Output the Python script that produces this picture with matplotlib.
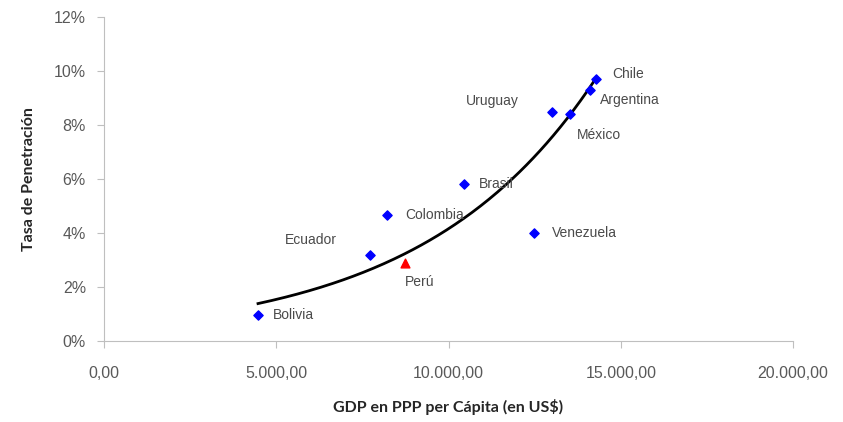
import numpy as np
import matplotlib.pyplot as plt
from matplotlib.ticker import FuncFormatter

# ---------- DATA ----------
countries = ["Bolivia", "Ecuador", "Colombia", "Brasil", "Venezuela",
             "Uruguay", "México", "Argentina", "Chile"]
gdp = [4470, 7720, 8215, 10450, 12480, 13000, 13530, 14100, 14280]
rate = [0.0096, 0.0319, 0.0467, 0.0581, 0.0400, 0.0848, 0.0841, 0.0930, 0.0970]

peru_gdp = 8740
peru_rate = 0.0289

# label offsets (points) and alignment
offsets = {
    "Bolivia": (11, 0, "left"), "Ecuador": (-24, 11, "right"),
    "Colombia": (13, 0, "left"), "Brasil": (11, 0, "left"),
    "Venezuela": (13, 0, "left"), "Uruguay": (-24, 8, "right"),
    "México": (5, -15, "left"), "Argentina": (7, -7, "left"),
    "Chile": (12, 4, "left"),
}

# ---------- TREND (exponential fit, like Excel) ----------
all_x = np.array(gdp + [peru_gdp])
all_y = np.array(rate + [peru_rate])
b, ln_a = np.polyfit(all_x, np.log(all_y), 1)
xs = np.linspace(min(all_x), max(all_x), 200)
ys = np.exp(ln_a) * np.exp(b * xs)

# ---------- PLOT ----------
fig = plt.figure(figsize=(8.43, 4.22), dpi=100)
ax = fig.add_axes([0.1234, 0.192, 0.8173, 0.7677])

ax.plot(xs, ys, color="black", lw=2)
ax.scatter(gdp, rate, marker="D", s=22, color="#0000ff", zorder=3)
ax.scatter([peru_gdp], [peru_rate], marker="^", s=40, color="#ff0000", zorder=3)

txt_color = "#4a4a4a"
for c, x, y in zip(countries, gdp, rate):
    dx, dy, ha = offsets[c]
    ax.annotate(c, (x, y), xytext=(dx, dy), textcoords="offset points",
                ha=ha, va="center", fontsize=10, color=txt_color,
                family="Liberation Sans")
ax.annotate("Perú", (peru_gdp, peru_rate), xytext=(0, -14),
            textcoords="offset points", ha="left", va="center",
            fontsize=10, color=txt_color, family="Liberation Sans")

ax.set_xlim(0, 20000)
ax.set_ylim(0, 0.12)
ax.set_xticks([0, 5000, 10000, 15000, 20000])
ax.set_yticks(np.arange(0, 0.121, 0.02))
ax.xaxis.set_major_formatter(FuncFormatter(
    lambda v, p: f"{v:,.2f}".replace(",", "X").replace(".", ",").replace("X", ".")))
ax.yaxis.set_major_formatter(FuncFormatter(lambda v, p: f"{v*100:.0f}%"))

for s in ["top", "right"]:
    ax.spines[s].set_visible(False)
for s in ["left", "bottom"]:
    ax.spines[s].set_color("#bfbfbf")
ax.tick_params(colors="#bfbfbf", labelcolor="#595959", labelsize=11.5,
               length=5)
ax.tick_params(axis="x", pad=13)
ax.tick_params(axis="y", pad=8)
for lab in ax.get_xticklabels() + ax.get_yticklabels():
    lab.set_family("Liberation Sans")

ax.set_xlabel("GDP en PPP per Cápita (en US$)", fontsize=11.5,
              fontweight="bold", family="Lato", color="#262626", labelpad=13)
ax.set_ylabel("Tasa de Penetración", fontsize=11.5, fontweight="bold",
              family="Lato", color="#262626", labelpad=13)

fig.savefig("out.png", dpi=100)
